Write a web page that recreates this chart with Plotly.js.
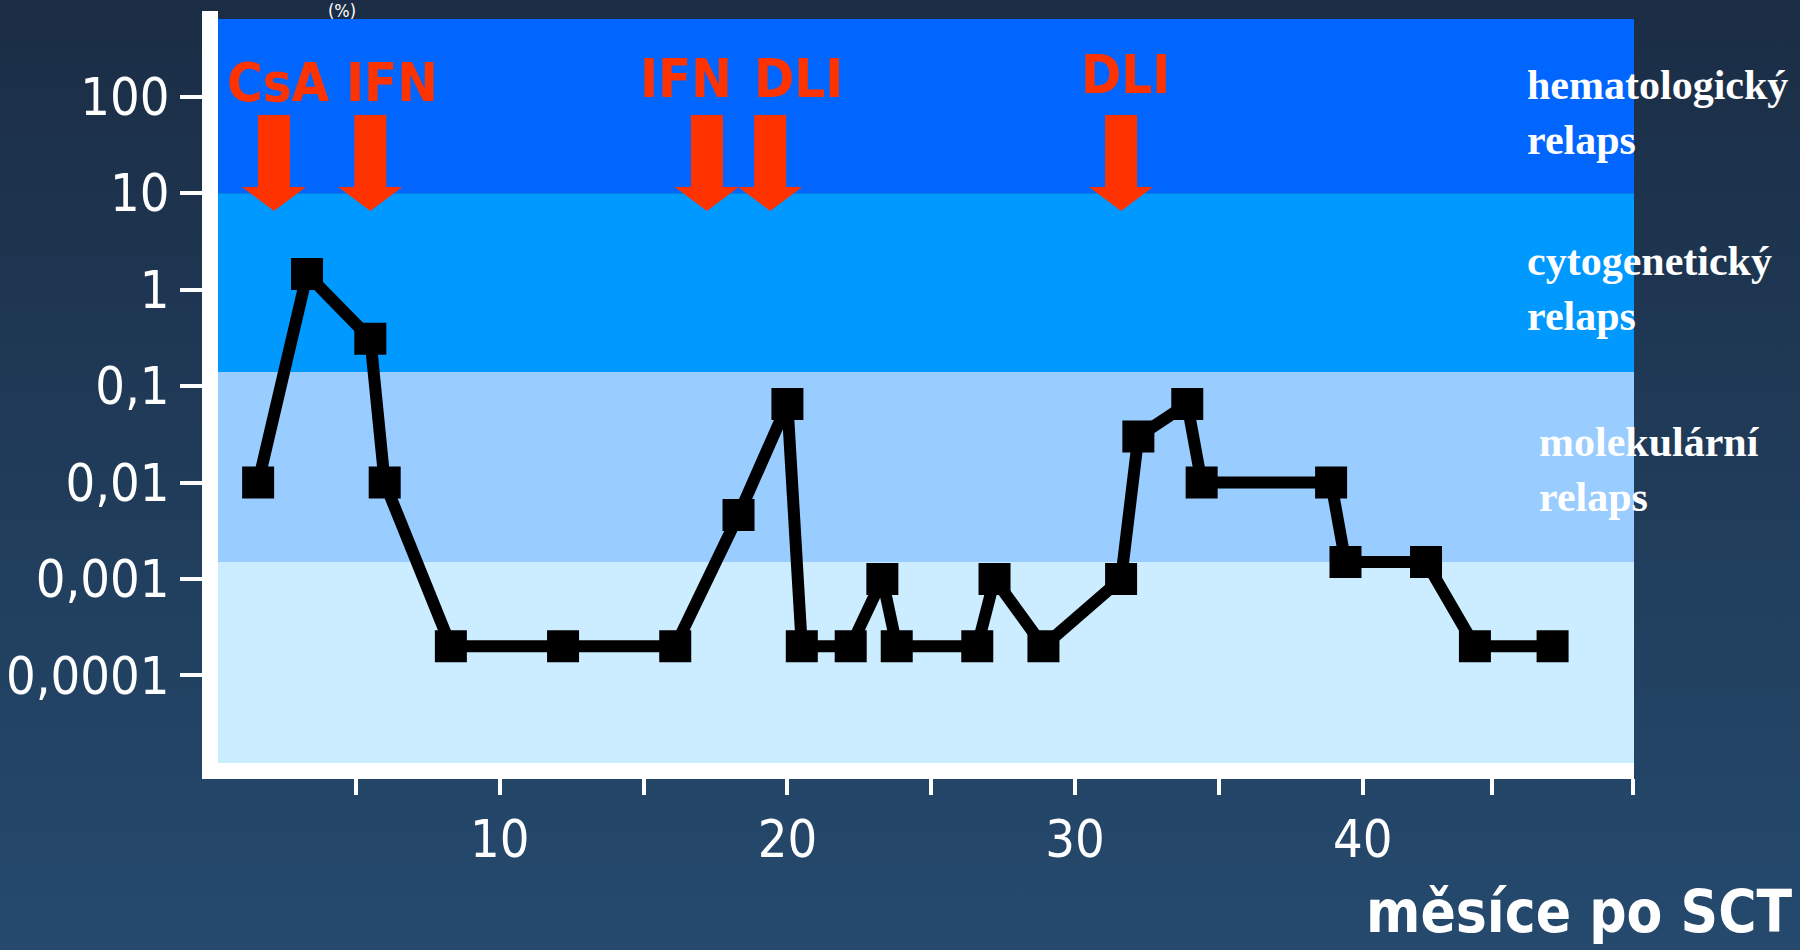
<!DOCTYPE html>
<html><head><meta charset="utf-8">
<script src="https://cdn.plot.ly/plotly-3.0.1.min.js"></script>
<style>
html,body{margin:0;padding:0;width:1800px;height:950px;overflow:hidden;background:linear-gradient(to bottom,#1b2d45 0%,#254a6e 100%);}
#chart{width:1800px;height:950px;}
</style></head><body><div id="chart"></div>
<script>
// ---- data ----
const months = [1.6, 3.3, 5.5, 6.0, 8.3, 12.2, 16.1, 18.3, 20.0, 20.5, 22.2, 23.3, 23.8, 26.6, 27.2, 28.9, 31.6, 32.2, 33.9, 34.4, 38.9, 39.4, 42.2, 43.9, 46.6];
const bcrAbl = [0.01, 1.45, 0.31, 0.01, 0.0002, 0.0002, 0.0002, 0.0046, 0.065, 0.0002, 0.0002, 0.001, 0.0002, 0.0002, 0.001, 0.0002, 0.001, 0.03, 0.065, 0.01, 0.01, 0.0015, 0.0015, 0.0002, 0.0002];
const yTickVals = [0.0001, 0.001, 0.01, 0.1, 1, 10, 100];
const yTickText = ['0,0001', '0,001', '0,01', '0,1', '1', '10', '100'];
const xTickVals = [5, 10, 15, 20, 25, 30, 35, 40, 44.5, 49.4];
const xTickText = ['', '10', '', '20', '', '30', '', '40', '', ''];
const treatmentMonths = [2.15, 5.5, 17.2, 19.4, 31.6];
const treatmentLabels = ['CsA', 'IFN', 'IFN', 'DLI', 'DLI'];
const zoneLabels = ['hematologický<br>relaps', 'cytogenetický<br>relaps', 'molekulární<br>relaps'];
const zoneBounds = [10, 0.14, 0.0015];   // lower edges of the relapse zones
const xTitle = 'měsíce po SCT';
const yUnit = '(%)';

// ---- style ----
const SANS = '"DejaVu Sans Condensed", "DejaVu Sans", sans-serif';
const SERIF = '"Liberation Serif", "Times New Roman", serif';
const zoneColors = ['#0066ff', '#0099ff', '#99ccff', '#ccecff'];
const yRange = [-4.909, 2.807];
const xRange = [0.205, 49.43];
const zoneLabelY = [0.874, 0.638, 0.394];
const zoneLabelShift = [-109, -109, -97];
const treatLabelY = [0.915, 0.915, 0.92, 0.92, 0.925];
const treatLabelShift = [5, 22, -21, 28, 4];
const RED = '#ff3300';

const shapes = [];
const edges = [Math.pow(10, yRange[1])].concat(zoneBounds).concat([Math.pow(10, yRange[0])]);
for (let i = 0; i < zoneColors.length; i++) {
  shapes.push({type: 'rect', layer: 'below', xref: 'paper', yref: 'y', x0: 0, x1: 1,
    y0: edges[i + 1], y1: edges[i], fillcolor: zoneColors[i], line: {width: 0}});
}
treatmentMonths.forEach(m => {
  shapes.push({type: 'path', layer: 'above', xref: 'x', yref: 'paper',
    xsizemode: 'pixel', ysizemode: 'pixel', xanchor: m, yanchor: 0.742,
    path: 'M -16 96 L 16 96 L 16 24 L 32 24 L 0 0 L -32 24 L -16 24 Z',
    fillcolor: RED, line: {width: 0}});
});
// small upward extension of the white y-axis line
shapes.push({type: 'rect', layer: 'above', xref: 'paper', yref: 'paper',
  xsizemode: 'pixel', ysizemode: 'pixel', xanchor: 0, yanchor: 1,
  x0: -16, x1: 0, y0: 0, y1: 8, fillcolor: '#ffffff', line: {width: 0}});

const annotations = [];
treatmentLabels.forEach((t, i) => {
  annotations.push({text: t, xref: 'x', yref: 'paper', x: treatmentMonths[i], y: treatLabelY[i],
    xanchor: 'center', yanchor: 'middle', xshift: treatLabelShift[i], showarrow: false,
    font: {family: SANS, size: 54, color: RED, weight: 'bold'}});
});
zoneLabels.forEach((t, i) => {
  annotations.push({text: t, xref: 'paper', yref: 'paper', x: 1, y: zoneLabelY[i],
    xanchor: 'left', yanchor: 'middle', align: 'left', xshift: zoneLabelShift[i], showarrow: false,
    font: {family: SERIF, size: 42, color: '#ffffff', weight: 'bold'}});
});
annotations.push({text: xTitle, xref: 'paper', yref: 'paper', x: 1, y: -0.2003,
  xanchor: 'right', yanchor: 'middle', xshift: 160, showarrow: false,
  font: {family: SANS, size: 58, color: '#ffffff', weight: 'bold'}});
annotations.push({text: yUnit, xref: 'paper', yref: 'paper', x: 0.0876, y: 1.0115,
  xanchor: 'center', yanchor: 'middle', showarrow: false,
  font: {family: SANS, size: 18, color: '#ffffff'}});

const trace = {
  x: months, y: bcrAbl, type: 'scatter', mode: 'lines+markers',
  line: {color: '#000000', width: 12},
  marker: {symbol: 'square', size: 32, color: '#000000'},
  cliponaxis: false, hoverinfo: 'x+y'
};

const layout = {
  width: 1800, height: 950,
  margin: {l: 218, r: 166, t: 19, b: 187, pad: 0},
  paper_bgcolor: 'rgba(0,0,0,0)', plot_bgcolor: 'rgba(0,0,0,0)',
  showlegend: false,
  xaxis: {range: xRange, tickmode: 'array', tickvals: xTickVals, ticktext: xTickText,
    ticks: 'outside', ticklen: 16, tickwidth: 4, tickcolor: '#ffffff',
    showline: true, linecolor: '#ffffff', linewidth: 16, showgrid: false, zeroline: false,
    tickfont: {family: SANS, size: 52, color: '#ffffff'}},
  yaxis: {type: 'log', range: yRange, tickmode: 'array', tickvals: yTickVals, ticktext: yTickText,
    ticks: 'outside', ticklen: 22, tickwidth: 4, tickcolor: '#ffffff',
    showline: true, linecolor: '#ffffff', linewidth: 16, showgrid: false, zeroline: false,
    tickfont: {family: SANS, size: 52, color: '#ffffff'}},
  shapes: shapes, annotations: annotations
};

Plotly.newPlot('chart', [trace], layout, {displayModeBar: false, staticPlot: true});
</script></body></html>
